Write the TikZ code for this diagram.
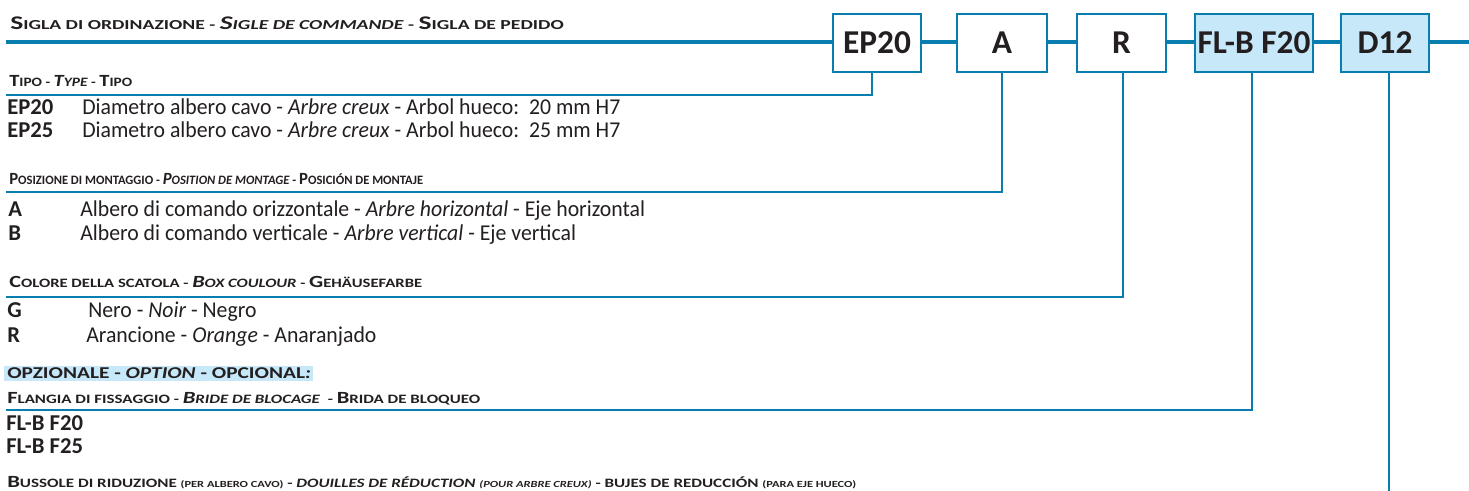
\documentclass[tikz,border=0pt]{standalone}
\usepackage{fontspec}
\setmainfont{Carlito}
\usepackage{xcolor}
\usepackage{graphicx}
\usetikzlibrary{positioning}
\definecolor{rule}{HTML}{0A7DAF}
\definecolor{pale}{HTML}{C7E8F8}
\definecolor{ink}{HTML}{231F20}
% fake small caps: big initial, small rest
\newcommand\tbig[1]{{\fontsize{14.5}{15}\selectfont #1}}
\newcommand\hbig[1]{{\fontsize{12.8}{13}\selectfont #1}}
\newcommand\psm[1]{{\fontsize{7}{8}\selectfont #1}}
% widen a line of text
\newcommand\wide[2]{\scalebox{#1}[1]{#2}}

\begin{document}
\begin{tikzpicture}[x=0.75pt,y=-0.75pt,text=ink,
  titletxt/.style={anchor=base west,inner sep=0pt,font=\bfseries\fontsize{10.3}{11}\selectfont},
  headtxt/.style={anchor=base west,inner sep=0pt,font=\bfseries\fontsize{9.6}{10}\selectfont},
  rowtxt/.style={anchor=base west,inner sep=0pt,font=\fontsize{17}{18}\selectfont},
  codetxt/.style={anchor=base west,inner sep=0pt,font=\bfseries\fontsize{17}{18}\selectfont},
  codebox/.style={draw=rule,line width=1.6pt,fill=white,
    minimum height=43pt,inner sep=0pt,font=\bfseries\fontsize{25}{25}\selectfont},
  leader/.style={rule,line width=1.4pt}]
\useasboundingbox (0,0) rectangle (1469,491);
% main bar
\draw[rule,line width=3.6pt] (6,42) -- (1469,42);
\node[codebox,minimum width=66pt] (ep20) at (877,43) {EP20};
\node[codebox,minimum width=67pt] (posA) at (1002,43) {A};
\node[codebox,minimum width=67pt] (colR) at (1121.5,43) {R};
\node[codebox,fill=pale,minimum width=88pt] (flb) at (1254,43) {FL-B F20};
\node[codebox,fill=pale,minimum width=66pt] (d12) at (1385,43) {D12};
% leaders
\coordinate (l1) at (6,95);
\coordinate (l2) at (6,192);
\coordinate (l3) at (6,297);
\coordinate (l4) at (6,410);
\coordinate (l5) at (1389,491);
\draw[leader] ([xshift=-3.5pt]ep20.south) |- (l1);
\draw[leader] (posA.south) |- (l2);
\draw[leader] ([xshift=1pt]colR.south) |- (l3);
\draw[leader] ([xshift=-1.5pt]flb.south) |- (l4);
\draw[leader] ([xshift=3pt]d12.south) -- ([xshift=3pt]d12.south |- l5);
% title
\node[titletxt] (title) at (10,30) {\wide{1.43}{\tbig{S}IGLA DI ORDINAZIONE - \textit{\tbig{S}IGLE DE COMMANDE} - \tbig{S}IGLA DE PEDIDO}};
% tipo
\node[headtxt] (tipo) at (9,87) {\wide{1.2}{\hbig{T}IPO - \textit{\hbig{T}YPE} - \hbig{T}IPO}};
\node[codetxt] (c20) at (7,115) {EP20};
\node[rowtxt] (t20) at (82,115) {\wide{0.96}{Diametro albero cavo - \textit{Arbre creux} - Arbol hueco:\ \ 20 mm H7}};
\node[codetxt] (c25) at (7,138) {EP25};
\node[rowtxt] (t25) at (82,138) {\wide{0.96}{Diametro albero cavo - \textit{Arbre creux} - Arbol hueco:\ \ 25 mm H7}};
% posizione
\node[headtxt] (pos) at (9,185) {\wide{0.98}{\hbig{P}OSIZIONE DI MONTAGGIO - \textit{\hbig{P}OSITION DE MONTAGE} - \hbig{P}OSICIÓN DE MONTAJE}};
\node[codetxt] (cA) at (8,217) {A};
\node[rowtxt] (tA) at (80,217) {\wide{0.96}{Albero di comando orizzontale - \textit{Arbre horizontal} - Eje horizontal}};
\node[codetxt] (cB) at (8,241) {B};
\node[rowtxt] (tB) at (80,241) {\wide{0.96}{Albero di comando verticale - \textit{Arbre vertical} - Eje vertical}};
% colore
\node[headtxt] (col) at (9,288) {\wide{1.3}{\hbig{C}OLORE DELLA SCATOLA - \textit{\hbig{B}OX COULOUR} - \hbig{G}EHÄUSEFARBE}};
\node[codetxt] (cG) at (7,317) {G};
\node[rowtxt] (tG) at (88,317) {\wide{0.96}{Nero - \textit{Noir} - Negro}};
\node[codetxt] (cR) at (7,342) {R};
\node[rowtxt] (tR) at (86,342) {\wide{0.96}{Arancione - \textit{Orange} - Anaranjado}};
% optional part
\fill[pale] (4,366) rectangle (313,381);
\node[headtxt,font=\bfseries\fontsize{12.4}{13}\selectfont] (opt) at (7,378) {\wide{1.29}{OPZIONALE - \textit{OPTION} - OPCIONAL\textit{:}}};
\node[headtxt] (fla) at (7,403) {\wide{1.32}{\hbig{F}LANGIA DI FISSAGGIO - \textit{\hbig{B}RIDE DE BLOCAGE}\ \ - \hbig{B}RIDA DE BLOQUEO}};
\node[codetxt] (f20) at (6,430) {FL-B F20};
\node[codetxt] (f25) at (6,453) {FL-B F25};
\node[headtxt] (bus) at (7,487) {\wide{1.33}{\hbig{B}USSOLE DI RIDUZIONE \psm{(PER ALBERO CAVO)} - \textit{DOUILLES DE RÉDUCTION \psm{(POUR ARBRE CREUX)}} - BUJES DE REDUCCIÓN \psm{(PARA EJE HUECO)}}};
\end{tikzpicture}
\end{document}
